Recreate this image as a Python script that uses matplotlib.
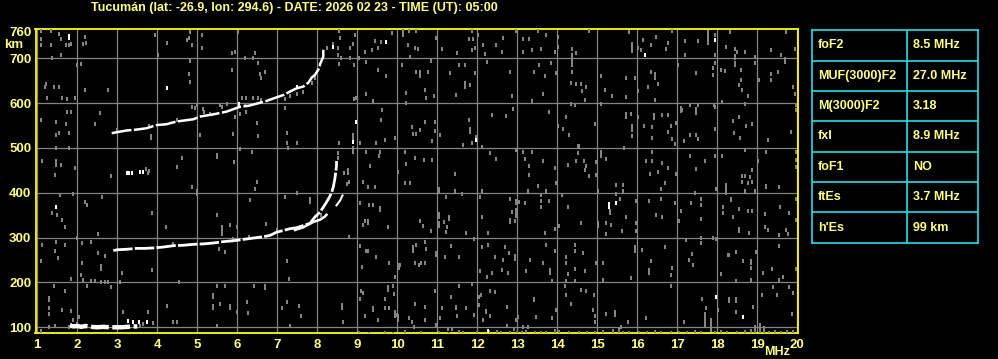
import matplotlib
matplotlib.use("Agg")
import matplotlib.pyplot as plt

plt.rcParams['font.family'] = ['Liberation Sans', 'DejaVu Sans']

TITLE = "Tucumán (lat: -26.9, lon: 294.6) - DATE: 2026 02 23 - TIME (UT): 05:00"

# parametros del ionograma (tabla derecha)
param_names = ["foF2", "MUF(3000)F2", "M(3000)F2", "fxI", "foF1", "ftEs", "h'Es"]
param_values = ["8.5 MHz", "27.0 MHz", "3.18", "8.9 MHz", "NO", "3.7 MHz", "99 km"]

freq_ticks = list(range(1, 21))
height_ticks = [100, 200, 300, 400, 500, 600, 700, 760]

# traza F2 ordinaria (MHz, km)
o_freq = [2.9, 3.0, 3.23, 3.48, 3.69, 3.9, 4.15, 4.4, 4.65, 4.9, 5.15, 5.4, 5.65, 5.9,
          6.15, 6.4, 6.65, 6.82, 6.98, 7.15, 7.32, 7.48, 7.65, 7.82, 7.94, 8.07, 8.15,
          8.23, 8.3, 8.36, 8.4, 8.44, 8.46, 8.48, 8.48]
o_height = [271, 273, 274, 276, 276, 277, 279, 282, 283, 285, 286, 288, 291, 293,
            296, 299, 302, 305, 312, 316, 320, 322, 327, 332, 346, 357, 368,
            379, 390, 401, 413, 432, 445, 460, 471]

# traza extraordinaria
x_freq = [7.44, 7.65, 7.9, 8.07, 8.19, 8.23]
x_height = [317, 323, 335, 340, 347, 351]
x2_freq = [8.48, 8.57, 8.63]
x2_height = [372, 383, 394]

# segundo salto 2F
f2_freq = [2.86, 2.98, 3.23, 3.48, 3.73, 3.98, 4.23, 4.48, 4.73, 4.9, 5.07, 5.4, 5.73,
           6.07, 6.28, 6.53, 6.73, 6.92, 7.15, 7.32, 7.48, 7.65, 7.78, 7.86, 7.94,
           8.05, 8.07, 8.15, 8.15]
f2_height = [533, 535, 539, 541, 544, 551, 553, 559, 562, 564, 570, 575, 581,
             592, 594, 600, 605, 611, 618, 626, 633, 637, 646, 657, 663,
             678, 687, 704, 719]

# Es
es_freq = [1.82, 1.9, 2.0, 2.1, 2.2, 2.35, 2.5, 2.65, 2.8, 2.95, 3.1, 3.25, 3.4, 3.5]
es_height = [104, 102, 103, 101, 103, 101, 100, 101, 100, 100, 100, 101, 102, 102]

# puntos blancos sueltos
white_pts = [(3.28, 113), (3.4, 112), (3.55, 112), (3.75, 111), (3.23, 444), (3.3, 445),
             (3.36, 444), (3.57, 446), (3.65, 446), (8.38, 726), (8.88, 514), (8.98, 558),
             (8.44, 440), (4.23, 633), (1.78, 750), (1.78, 745), (9.73, 737), (1.48, 368),
             (11.98, 518), (16.19, 707), (17.94, 741), (15.29, 375), (15.29, 368),
             (15.48, 377), (17.98, 167), (18.65, 123), (12.28, 92), (6.04, 598), (7.48, 636)]

# halo gris alrededor de las trazas
halo_pts = [(4.86, 592), (4.94, 590), (4.98, 596), (5.15, 588), (5.17, 580), (5.32, 575),
            (5.57, 596), (5.63, 592), (5.73, 597), (8.13, 715), (8.25, 724), (8.4, 733),
            (8.53, 722), (8.53, 707), (8.59, 701), (7.94, 655), (7.86, 645), (7.65, 625),
            (7.48, 620), (7.32, 615), (7.19, 610), (3.73, 452), (3.79, 449), (3.76, 445),
            (8.75, 420), (8.8, 424), (8.78, 444), (8.78, 451), (8.68, 444), (8.88, 490),
            (8.88, 500), (8.9, 520), (8.9, 530), (8.53, 488), (8.53, 477), (7.83, 386),
            (7.83, 380), (1.8, 100), (1.85, 106), (3.9, 110), (3.65, 108), (3.57, 102),
            (2.0, 108), (6.6, 608), (6.2, 596), (4.5, 563), (3.8, 548), (3.0, 540),
            (5.9, 296), (6.3, 302), (7.0, 316), (4.4, 285), (8.1, 350)]

noise_upper = [
    (1.08, 761), (1.33, 761), (1.55, 755), (1.78, 730), (1.6, 743), (1.08, 743), (1.08, 730),
    (1.33, 730), (1.71, 730), (1.83, 733), (2.19, 747), (2.15, 731), (2.22, 735), (1.59, 707),
    (1.36, 701), (1.98, 684), (2.08, 688), (1.23, 643), (1.19, 635), (1.43, 635), (1.54, 635),
    (1.24, 612), (1.63, 612), (1.73, 609), (1.94, 611), (2.19, 630), (2.78, 630), (3.94, 752),
    (4.23, 735), (4.02, 707), (4.83, 758), (4.79, 745), (4.73, 741), (4.88, 730), (5.13, 752),
    (5.13, 722), (4.83, 693), (4.78, 664), (4.83, 648), (5.88, 711), (5.95, 715), (6.19, 701),
    (6.4, 700), (6.44, 711), (6.02, 758), (5.88, 674), (6.52, 689), (6.57, 664), (6.59, 657),
    (6.69, 670), (6.13, 612), (6.23, 612), (6.4, 612), (6.52, 612), (6.08, 575),
    (6.22, 580), (5.94, 568), (6.52, 527), (6.48, 555), (1.08, 562), (1.48, 559), (1.71, 553),
    (1.48, 529), (1.54, 533), (1.79, 533), (2.44, 554), (2.57, 577), (1.73, 581), (1.83, 581),
    (3.83, 527), (3.83, 522), (5.08, 528), (5.9, 532), (6.08, 498), (6.38, 492), (5.48, 485),
    (5.48, 479), (4.63, 477), (4.48, 458), (5.93, 469), (1.13, 470), (1.48, 470), (1.48, 462),
    (1.59, 462), (1.94, 456), (1.78, 499), (1.48, 499), (2.84, 438), (1.44, 440),
    (8.54, 761), (8.57, 745), (8.82, 724), (8.88, 733), (8.94, 752), (9.53, 722), (9.6, 737),
    (9.87, 756), (9.45, 739), (9.19, 713), (9.36, 719), (9.05, 700), (8.92, 684), (9.23, 691),
    (8.83, 700), (8.55, 687), (9.53, 675), (9.73, 661), (10.15, 761), (10.3, 761), (10.48, 761),
    (10.15, 752), (10.28, 730), (10.44, 724), (10.53, 721), (10.13, 685), (10.32, 704),
    (10.48, 670), (10.58, 670), (10.58, 661), (10.78, 670), (10.84, 693), (10.98, 745),
    (11.13, 721), (11.32, 667), (11.54, 684), (11.69, 684), (11.5, 711), (11.48, 619),
    (11.69, 644), (11.69, 637), (11.83, 641), (11.8, 743), (11.9, 743), (11.88, 719),
    (11.94, 724), (11.88, 761), (12.02, 752), (11.94, 667), (12.25, 691), (12.2, 709),
    (12.15, 730), (12.48, 730), (12.65, 745), (12.63, 713), (12.83, 670), (12.88, 617),
    (12.98, 761), (13.15, 743), (13.3, 743), (13.15, 715), (13.38, 719), (13.42, 670),
    (13.38, 604), (10.23, 622), (10.69, 629), (10.73, 611), (10.92, 616), (9.23, 621),
    (8.97, 612), (8.92, 609), (9.38, 605), (10.23, 600), (7.19, 590), (8.54, 510), (9.07, 510),
    (7.23, 533), (7.23, 510), (7.48, 510), (7.28, 501), (9.61, 585), (9.59, 562), (9.48, 510),
    (9.69, 518), (9.94, 523), (9.23, 492), (9.57, 492), (9.55, 481), (9.32, 460), (10.03, 447),
    (10.19, 492), (10.23, 465), (10.44, 477), (10.67, 473), (10.88, 473), (10.69, 559),
    (10.94, 559), (10.38, 546), (10.58, 541), (10.4, 532), (10.48, 532), (10.86, 515),
    (10.94, 537), (11.08, 528), (11.44, 441), (11.65, 507), (11.8, 562), (11.82, 543),
    (11.82, 536), (11.88, 510), (11.98, 525), (12.13, 503), (12.36, 574), (12.73, 572),
    (12.33, 488), (12.48, 475), (12.98, 495), (12.9, 588), (13.15, 492), (13.19, 475),
    (13.3, 460), (13.3, 440), (13.38, 492),
    (13.53, 761), (13.73, 752), (14.03, 748), (14.03, 726), (13.59, 721), (13.94, 715),
    (14.38, 707), (14.38, 700), (14.48, 711), (14.38, 721), (14.79, 761), (14.38, 693),
    (14.38, 684), (14.38, 670), (13.84, 690), (13.55, 684), (13.69, 661), (13.98, 667),
    (14.34, 645), (14.48, 643), (14.59, 643), (14.73, 635), (14.63, 626), (14.69, 607),
    (13.65, 620), (13.79, 581), (14.23, 568), (14.03, 550), (14.15, 542), (14.29, 528),
    (14.54, 505), (14.44, 595), (14.94, 553), (15.09, 661), (15.19, 629), (15.38, 616),
    (15.73, 657), (15.94, 657), (15.73, 613), (15.79, 758), (15.88, 733), (15.88, 726),
    (15.88, 716), (16.03, 724), (16.09, 718), (16.15, 740), (16.34, 730), (16.48, 748),
    (16.78, 735), (16.73, 721), (16.88, 761), (17.19, 738), (17.53, 738), (17.19, 707),
    (17.78, 758), (17.78, 750), (17.78, 742), (17.78, 735), (17.94, 752), (17.94, 707),
    (18.33, 758), (18.23, 726), (18.44, 721), (18.5, 715), (18.44, 706), (18.44, 700),
    (18.69, 713), (18.94, 704), (18.94, 689), (19.34, 719), (19.59, 707), (19.69, 698),
    (19.69, 692), (19.94, 721), (19.73, 758), (17.03, 684), (16.34, 670), (16.44, 664),
    (16.44, 657), (16.53, 643), (16.28, 635), (16.03, 626), (16.44, 607), (17.48, 667),
    (17.89, 679), (17.89, 663), (18.09, 674), (18.19, 672), (17.94, 690), (18.44, 690),
    (18.44, 684), (18.59, 674), (18.6, 652), (18.54, 640), (18.63, 630), (18.78, 617),
    (18.11, 603), (19.04, 652), (19.34, 664), (19.34, 652), (19.51, 670), (19.9, 635),
    (19.94, 620), (14.34, 598), (15.09, 597), (15.73, 575), (15.84, 575), (15.73, 568),
    (15.88, 548), (15.88, 541), (15.88, 527), (16.03, 568), (16.18, 550), (16.38, 546),
    (16.43, 574), (16.43, 567), (16.38, 523), (16.63, 574), (16.78, 574), (16.84, 550),
    (16.78, 536), (16.86, 521), (16.98, 555), (16.94, 508), (17.09, 590), (17.09, 582),
    (17.13, 584), (17.33, 596), (17.53, 596), (17.48, 588), (17.48, 577), (17.33, 528),
    (17.48, 528), (17.53, 520), (17.18, 515), (17.93, 596), (17.94, 592), (17.94, 543),
    (18.4, 560), (18.55, 568), (18.73, 550), (18.88, 553), (18.58, 523), (18.41, 534),
    (18.69, 598), (19.28, 517), (19.84, 536), (19.97, 595), (19.97, 585), (18.69, 495),
    (18.11, 482), (19.23, 492), (19.96, 492), (19.96, 473), (19.96, 457), (19.03, 470),
    (18.88, 451), (17.94, 482), (17.69, 470), (17.48, 453), (17.33, 482), (16.61, 467),
    (16.78, 456), (16.36, 470), (16.23, 470), (16.38, 492), (16.53, 446), (16.31, 443),
    (16.98, 441), (14.98, 468), (14.96, 440), (15.09, 492), (15.09, 482), (15.23, 475),
    (15.68, 501), (14.53, 505), (14.53, 488), (14.68, 470), (14.73, 460), (14.69, 451),
    (14.48, 470), (14.28, 462), (13.94, 456), (13.65, 470), (14.79, 437), (18.7, 437),
    (18.62, 437), (18.82, 435)]

noise_lower = [
    (1.58, 394), (1.88, 398), (1.38, 355), (1.5, 350), (1.63, 340), (1.69, 323), (1.13, 283),
    (1.48, 291), (1.69, 283), (1.44, 270), (1.08, 247), (1.53, 255), (1.98, 300), (2.13, 288),
    (2.33, 291), (2.19, 379), (2.25, 372), (2.63, 390), (2.53, 307), (2.53, 265), (2.7, 260),
    (2.58, 236), (2.58, 230), (2.13, 243), (2.08, 216), (2.15, 206), (2.23, 191), (1.83, 207),
    (2.33, 203), (2.44, 203), (2.58, 200), (2.68, 200), (2.77, 200), (2.83, 190), (3.07, 200),
    (3.13, 221), (1.43, 193), (1.69, 180), (1.3, 165), (1.3, 161), (1.3, 143), (1.3, 130),
    (1.63, 138), (1.83, 136), (1.08, 92), (1.3, 100), (1.44, 103), (1.89, 117), (2.05, 124),
    (3.15, 134), (3.78, 134), (4.23, 147), (4.4, 112), (4.48, 112), (4.22, 323), (3.88, 355),
    (3.88, 227), (4.86, 413), (5.0, 405), (5.0, 397), (5.48, 351), (5.63, 323), (5.63, 316),
    (5.63, 308), (5.83, 329), (5.98, 323), (5.55, 275), (5.69, 268), (5.4, 172), (5.4, 168),
    (5.4, 147), (5.4, 142), (5.58, 152), (5.83, 147), (5.83, 142), (5.48, 191), (5.69, 193),
    (6.25, 156), (6.28, 132), (6.0, 134), (5.48, 102), (6.42, 193), (6.69, 192), (6.69, 188),
    (6.33, 383), (6.44, 409), (6.48, 424), (6.72, 331), (4.53, 200),
    (7.48, 399), (7.19, 390), (9.15, 424), (9.28, 413), (9.44, 413), (10.19, 422), (10.33, 422),
    (11.05, 408), (11.05, 402), (11.23, 390), (11.44, 404), (11.63, 398), (12.08, 390),
    (12.13, 404), (12.83, 387), (12.98, 382), (12.98, 378), (12.98, 362), (12.98, 358),
    (12.97, 349), (13.05, 380), (13.19, 378), (12.88, 357), (12.83, 339), (12.83, 335),
    (12.94, 337), (13.28, 404), (9.08, 377), (9.3, 372), (9.38, 372), (9.58, 365), (9.58, 361),
    (9.28, 338), (9.28, 332), (9.19, 337), (9.13, 329), (9.78, 323), (10.58, 337), (10.65, 327),
    (10.84, 314), (11.05, 352), (11.05, 347), (11.05, 332), (11.05, 327), (11.18, 335),
    (11.3, 345), (11.3, 341), (11.25, 323), (11.23, 312), (11.73, 310), (12.13, 346),
    (12.28, 310), (8.8, 301), (7.23, 248), (7.29, 207), (9.08, 282), (9.22, 270), (9.26, 270),
    (9.48, 257), (9.12, 234), (9.8, 243), (10.05, 238), (10.05, 233), (10.08, 238), (9.94, 212),
    (10.48, 283), (10.69, 291), (10.73, 275), (10.4, 279), (10.4, 270), (10.44, 243),
    (10.54, 238), (10.6, 243), (10.69, 243), (10.98, 265), (10.98, 261), (11.19, 257),
    (11.54, 257), (11.35, 282), (11.91, 297), (12.13, 279), (12.28, 283), (12.45, 257),
    (12.69, 279), (12.8, 265), (12.94, 260), (12.94, 253), (12.65, 249), (12.63, 228),
    (12.78, 221), (12.38, 221), (12.25, 212), (12.08, 225), (13.33, 251), (13.23, 225),
    (9.1, 182), (9.13, 176), (9.08, 164), (9.78, 189), (9.78, 183), (9.88, 193), (9.92, 175),
    (9.69, 164), (9.8, 144), (9.69, 144), (10.03, 124), (10.03, 116), (9.94, 134), (9.94, 126),
    (9.38, 143), (9.38, 139), (9.19, 126), (8.61, 149), (8.61, 143), (8.63, 112), (7.25, 156),
    (7.13, 144), (7.55, 147), (7.59, 125), (7.33, 102), (9.53, 117), (10.3, 121), (10.42, 100),
    (10.38, 111), (10.44, 152), (10.69, 146), (10.94, 182), (11.08, 121), (11.13, 144),
    (10.98, 106), (11.28, 97), (11.37, 97), (11.35, 167), (11.48, 146), (11.48, 142),
    (11.73, 143), (11.5, 126), (11.55, 193), (11.88, 197), (11.93, 128), (12.05, 167),
    (12.09, 172), (12.05, 149), (12.22, 137), (12.22, 133), (12.32, 126), (12.33, 182),
    (12.44, 178), (12.15, 116), (12.75, 145), (12.98, 117), (13.03, 122), (13.15, 100),
    (13.28, 100), (13.42, 164), (13.42, 160), (12.75, 103), (12.92, 97),
    (13.51, 416), (13.73, 404), (13.59, 394), (13.59, 381), (13.79, 381), (13.59, 368),
    (13.98, 422), (14.13, 394), (14.28, 368), (14.59, 332), (14.04, 327), (13.94, 320),
    (13.69, 310), (15.03, 404), (15.03, 333), (15.03, 327), (15.23, 332), (15.34, 329),
    (15.31, 360), (15.31, 355), (15.48, 417), (15.64, 417), (15.48, 398), (15.64, 404),
    (15.58, 387), (15.23, 309), (15.63, 315), (15.73, 346), (15.98, 381), (15.98, 332),
    (15.98, 315), (16.29, 381), (16.48, 351), (16.63, 346), (16.6, 387), (16.6, 409),
    (16.69, 422), (16.94, 377), (17.09, 359), (17.04, 337), (17.34, 377), (17.59, 387),
    (17.59, 372), (17.44, 399), (17.59, 342), (17.98, 409), (18.23, 417), (18.23, 409),
    (18.23, 399), (18.34, 387), (18.34, 383), (18.54, 364), (18.76, 359), (18.86, 359),
    (18.15, 368), (18.15, 355), (18.4, 346), (18.54, 319), (18.54, 315), (18.79, 310),
    (18.63, 424), (18.76, 422), (18.88, 424), (18.69, 404), (19.23, 416), (19.23, 412),
    (19.54, 413), (18.94, 405), (19.19, 353), (19.56, 368), (19.79, 355), (19.19, 323),
    (19.26, 317), (19.54, 305), (19.73, 317), (19.77, 308), (19.98, 387), (19.98, 340),
    (13.73, 284), (13.65, 243), (13.81, 228), (13.81, 222), (13.88, 203), (13.94, 270),
    (14.23, 257), (14.23, 243), (14.44, 283), (14.44, 270), (14.65, 266), (14.44, 230),
    (14.28, 219), (14.23, 203), (14.44, 203), (14.69, 225), (14.98, 243), (15.15, 243),
    (15.15, 205), (15.84, 211), (15.94, 279), (15.94, 270), (16.13, 273), (16.34, 248),
    (16.29, 228), (16.29, 222), (16.69, 279), (16.86, 233), (16.84, 216), (17.23, 295),
    (17.59, 300), (17.59, 288), (17.29, 251), (17.38, 264), (17.4, 238), (17.9, 300),
    (18.09, 218), (18.26, 261), (18.3, 261), (18.48, 268), (18.65, 248), (18.84, 247),
    (18.84, 243), (18.84, 233), (18.84, 206), (18.48, 203), (18.98, 267), (19.15, 222),
    (19.38, 229), (19.54, 281), (19.65, 212), (19.54, 206), (19.98, 229), (17.98, 296),
    (14.19, 193), (14.34, 152), (14.59, 184), (14.73, 181), (14.93, 171), (14.9, 138),
    (14.94, 126), (14.94, 112), (15.23, 130), (15.44, 133), (15.44, 127), (15.59, 100),
    (15.78, 112), (16.23, 121), (16.84, 193), (17.18, 112), (17.63, 164), (17.73, 143),
    (18.01, 139), (18.29, 162), (18.29, 158), (18.48, 162), (18.48, 158), (18.48, 134),
    (18.9, 146), (19.13, 171), (19.4, 190), (19.5, 171), (19.79, 190), (19.9, 176),
    (19.88, 130), (13.48, 124), (13.86, 121), (13.98, 138), (14.23, 171),
    (9.98, 128), (10.03, 120), (10.7, 116)]

# barras verticales (MHz, km inferior, km superior)
tall_bars = [(17.7, 98, 135), (17.84, 90, 120), (19.07, 88, 110), (18.95, 88, 104),
             (19.18, 88, 102), (10.02, 112, 130), (13.95, 88, 97), (15.55, 88, 98)]

# ruido en el piso (MHz, km superior)
floor_noise = [(9.05, 91), (9.3, 90), (9.7, 92), (9.9, 90), (10.2, 93), (10.6, 91), (11.05, 92),
               (11.3, 90), (11.55, 94), (11.65, 91), (12.0, 92), (12.3, 93), (12.5, 95),
               (12.6, 92), (12.82, 91), (13.0, 92), (13.12, 91), (13.22, 93), (13.45, 91),
               (13.6, 92), (13.72, 91), (14.05, 94), (14.3, 92), (14.55, 91), (14.75, 92),
               (14.95, 91), (15.15, 93), (15.4, 97), (15.65, 92), (15.8, 91), (16.05, 92),
               (16.25, 91), (16.45, 93), (16.6, 91), (16.85, 92), (17.05, 91), (17.25, 92),
               (17.45, 93), (17.6, 92), (17.95, 91), (18.1, 95), (18.25, 92), (18.5, 91),
               (18.7, 93), (18.85, 97), (19.3, 92), (19.45, 94), (19.6, 91), (19.75, 94),
               (19.9, 93)]

YELLOW = '#ffff00'
TXT = '#ffff80'
GRAY = '#858585'
CYAN = '#20e0e8'
PIX = [(-1, -1.5), (1, -1.5), (1, 1.5), (-1, 1.5)]   # marcador 2x3

fig = plt.figure(figsize=(9.98, 3.59), dpi=100, facecolor='black')
ax = fig.add_axes([35.5 / 998, 25.7 / 359, 762.8 / 998, 304 / 359])
ax.set_facecolor('black')
ax.set_xlim(0.955, 20.025)
ax.set_ylim(86.6, 764.7)

ax.set_xticks(freq_ticks)
ax.set_yticks(height_ticks)
ax.grid(True, color=GRAY, lw=0.9)
ax.get_ygridlines()[-1].set_visible(False)
ax.set_axisbelow(True)
ax.tick_params(length=0, labelcolor=TXT, labelsize=9.5)
ax.tick_params(axis='x', pad=4.3)
ax.tick_params(axis='y', pad=3.0)
for lab in ax.get_xticklabels() + ax.get_yticklabels():
    lab.set_fontweight('bold')
for sp in ax.spines.values():
    sp.set_color(YELLOW)
    sp.set_linewidth(1.3)

# ruido (sin antialias, aspecto de pixel)
for pts in (noise_upper, noise_lower, halo_pts):
    ax.scatter([p[0] for p in pts], [p[1] for p in pts], s=5.8, marker=PIX, c=GRAY,
               linewidths=0, zorder=3, antialiased=False)
ax.vlines([b[0] for b in tall_bars], [b[1] for b in tall_bars], [b[2] for b in tall_bars],
          colors=GRAY, lw=1.2, zorder=3, antialiased=False)
ax.vlines([p[0] for p in floor_noise], 86.6, [p[1] for p in floor_noise],
          colors=GRAY, lw=1.2, zorder=3, antialiased=False)

# trazas
ax.plot(o_freq, o_height, color='white', lw=2.0, zorder=4, ls=(0, (7, 0.8)))
ax.plot(x_freq, x_height, color='white', lw=1.8, zorder=4)
ax.plot(x2_freq, x2_height, color='white', lw=1.5, zorder=4)
ax.plot(f2_freq, f2_height, color='white', lw=1.8, zorder=4, ls=(0, (8, 1)))
ax.plot(es_freq, es_height, color='white', lw=3.2, zorder=4, ls=(0, (4, 0.8)))
ax.scatter([p[0] for p in white_pts], [p[1] for p in white_pts], s=6.5, marker=PIX,
           c='white', linewidths=0, zorder=5, antialiased=False)

fig.text(294 / 998, 1 - 7.5 / 359, TITLE, ha='center', va='center', color=TXT,
         fontsize=9, fontweight='bold')
fig.text(13.5 / 998, 1 - 45 / 359, 'km', ha='center', va='center', color=TXT,
         fontsize=9.5, fontweight='bold')
fig.text(777 / 998, 1 - 352 / 359, 'MHz', ha='center', va='center', color=TXT,
         fontsize=9, fontweight='bold')

# tabla de parametros
tab = fig.add_axes([812.3 / 998, (359 - 242.7) / 359, 165.4 / 998, 212.4 / 359])
tab.set_xlim(0, 1)
tab.set_ylim(len(param_names), 0)
tab.set_facecolor('black')
for sp in tab.spines.values():
    sp.set_color(CYAN)
    sp.set_linewidth(1.2)
tab.set_xticks([])
tab.set_yticks([])
tab.axvline(0.574, color=CYAN, lw=1.2)
for i in range(1, len(param_names)):
    tab.axhline(i, color=CYAN, lw=1.2)
for i, (name, val) in enumerate(zip(param_names, param_values)):
    tab.text(0.033, i + 0.5, name, ha='left', va='center', color=TXT, fontsize=9,
             fontweight='bold')
    tab.text(0.607, i + 0.5, val, ha='left', va='center', color=TXT, fontsize=9,
             fontweight='bold')

fig.savefig('out.png', dpi=100, facecolor='black')
